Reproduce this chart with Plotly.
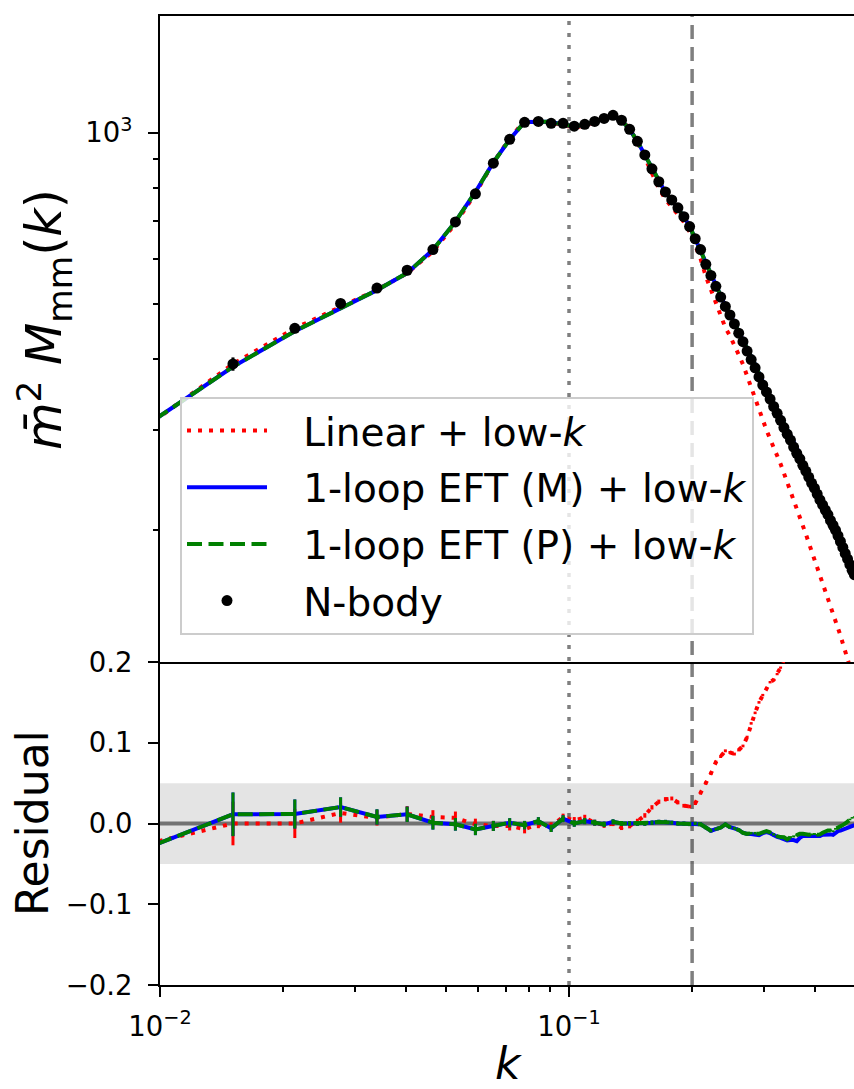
import plotly.graph_objects as go
from plotly.subplots import make_subplots

# wavenumber bins
k = [0.0088, 0.01508, 0.02136, 0.02764, 0.03392, 0.0402, 0.04648, 0.05276, 0.05904, 0.06532,
     0.0716, 0.07788, 0.08416, 0.09044, 0.09672, 0.103, 0.10928, 0.11556, 0.12184, 0.12812,
     0.1344, 0.14068, 0.14696, 0.15324, 0.15952, 0.1658, 0.17208, 0.17836, 0.18464, 0.19092,
     0.1972, 0.20348, 0.20976, 0.21604, 0.22232, 0.2286, 0.23488, 0.24116, 0.24744, 0.25372,
     0.26, 0.26628, 0.27256, 0.27884, 0.28512, 0.2914, 0.29768, 0.30396, 0.31024, 0.31652,
     0.3228, 0.32908, 0.33536, 0.34164, 0.34792, 0.3542, 0.36048, 0.36676, 0.37304, 0.37932,
     0.3856, 0.39188, 0.39816, 0.40444, 0.41072, 0.417, 0.42328, 0.42956, 0.43584, 0.44212,
     0.4484, 0.45468, 0.46096, 0.46724, 0.47352, 0.4798, 0.48608, 0.49236, 0.49864]

# N-body measurement
pk_nbody = [288, 392, 453, 501, 533, 573, 623, 697, 781, 884,
            974, 1043, 1047, 1039, 1039, 1027, 1035, 1047, 1060, 1073,
            1052, 1014, 966, 914, 864, 820, 787, 762, 738, 712,
            684, 651, 623, 587, 561, 537, 514, 495, 478, 461,
            444, 429, 413, 399, 386, 372, 360, 350, 340, 330,
            321, 312, 303, 295, 288, 280, 273, 267, 260, 254,
            248, 242, 237, 231.5, 226, 221.5, 217, 213, 208, 204,
            200, 195.5, 191, 186.5, 182, 178, 174, 170, 167]

# relative error of N-body measurement
err_rel = [0.04, 0.027, 0.018, 0.012, 0.0095, 0.0095, 0.0085, 0.0078, 0.007, 0.0062,
           0.0056, 0.0052, 0.0048, 0.0045, 0.0042, 0.004, 0.0038, 0.0036, 0.0034, 0.0032,
           0.0031, 0.003, 0.0029, 0.0028, 0.0027, 0.0026, 0.0025, 0.0024, 0.0023, 0.0023,
           0.0022, 0.0021, 0.0021, 0.002, 0.002, 0.0019, 0.0019, 0.0018, 0.0018, 0.0018,
           0.0017, 0.0017, 0.0017, 0.0016, 0.0016, 0.0016, 0.0015, 0.0015, 0.0015, 0.0015,
           0.0014, 0.0014, 0.0014, 0.0014, 0.0014, 0.0013, 0.0013, 0.0013, 0.0013, 0.0013,
           0.0012, 0.0012, 0.0012, 0.0012, 0.0012, 0.0012, 0.0011, 0.0011, 0.0011, 0.0011,
           0.0011, 0.0011, 0.0011, 0.001, 0.001, 0.001, 0.001, 0.001, 0.001]

# residuals  (N-body / model - 1)
res_linear = [-0.028, 0.0, 0.0, 0.013, 0.007, 0.012, 0.008, 0.007, -0.001, -0.003,
              -0.003, -0.007, -0.001, -0.003, 0.008, 0.004, 0.007, 0.001, -0.002, 0.0,
              -0.005, -0.003, 0.003, 0.010, 0.020, 0.027, 0.030, 0.031, 0.026, 0.022,
              0.021, 0.025, 0.038, 0.050, 0.062, 0.076, 0.083, 0.090, 0.088, 0.086,
              0.091, 0.096, 0.107, 0.124, 0.137, 0.150, 0.159, 0.167, 0.175, 0.178,
              0.185, 0.193, 0.203, 0.214, 0.226, 0.240, 0.251, 0.263, 0.275, 0.290,
              0.305, 0.317, 0.330, 0.343, 0.356, 0.370, 0.383, 0.396, 0.410, 0.423,
              0.437, 0.450, 0.463, 0.476, 0.490, 0.503, 0.516, 0.530, 0.542]

res_eft_m = [-0.035, 0.0114, 0.0118, 0.0204, 0.0081, 0.0114, 0.001, -0.001, -0.0074, -0.003,
             0.001, -0.002, 0.003, -0.006, 0.006, 0.0, 0.003, 0.001, -0.001, 0.002,
             0.0, 0.0, 0.0, 0.0, 0.001, 0.002, 0.002, 0.001, 0.0, 0.0,
             -0.001, 0.0, -0.001, -0.005, -0.009, -0.007, -0.005, -0.001, -0.0045, -0.006,
             -0.008, -0.0115, -0.013, -0.013, -0.014, -0.0145, -0.012, -0.0105, -0.012, -0.0145,
             -0.0165, -0.0177, -0.019, -0.021, -0.0205, -0.0205, -0.0218, -0.0177, -0.0156, -0.0156,
             -0.0156, -0.016, -0.015, -0.016, -0.0156, -0.014, -0.0135, -0.013, -0.0135, -0.014,
             -0.0115, -0.0095, -0.0087, -0.0074, -0.006, -0.005, -0.004, -0.003, -0.002]

res_eft_p = [-0.035, 0.0114, 0.0118, 0.0204, 0.0081, 0.0114, 0.001, -0.001, -0.0074, -0.003,
             0.001, -0.002, 0.003, -0.006, 0.006, 0.0, 0.003, 0.001, -0.001, 0.002,
             0.0, 0.0, 0.0, 0.0, 0.001, 0.002, 0.002, 0.001, 0.0, 0.0,
             -0.001, 0.0, -0.001, -0.005, -0.009, -0.007, -0.005, -0.001, -0.0045, -0.006,
             -0.008, -0.0115, -0.0128, -0.012, -0.012, -0.0128, -0.011, -0.0095, -0.011, -0.0135,
             -0.0156, -0.0168, -0.017, -0.0197, -0.017, -0.016, -0.0144, -0.0128, -0.0128, -0.0135,
             -0.014, -0.0135, -0.013, -0.014, -0.0135, -0.0115, -0.010, -0.0086, -0.0086, -0.0095,
             -0.0066, -0.005, -0.0045, -0.002, 0.0, 0.0025, 0.005, 0.007, 0.008]

x_ticks = [0.01, 0.1]
x_ticktext = ["10<sup>\u22122</sup>", "10<sup>\u22121</sup>"]
x_minor = [0.02, 0.03, 0.04, 0.05, 0.06, 0.07, 0.08, 0.09, 0.2, 0.3, 0.4]
y1_ticks = [1000]
y1_ticktext = ["10<sup>3</sup>"]
y1_minor = [200, 300, 400, 500, 600, 700, 800, 900]
y2_ticks = [-0.2, -0.1, 0.0, 0.1, 0.2]
y2_ticktext = ["\u22120.2", "\u22120.1", "0.0", "0.1", "0.2"]

model_linear = [p / (1 + r) for p, r in zip(pk_nbody, res_linear)]
model_eft_m = [p / (1 + r) for p, r in zip(pk_nbody, res_eft_m)]
model_eft_p = [p / (1 + r) for p, r in zip(pk_nbody, res_eft_p)]
err_abs = [p * e for p, e in zip(pk_nbody, err_rel)]

FONT = "DejaVu Sans"
RED_DASH = "4px,7px"
GREEN_DASH = "15px,6.5px"
GAP = "\u2002\u2009\u200a"

fig = make_subplots(rows=2, cols=1, shared_xaxes=True, vertical_spacing=0,
                    row_heights=[2 / 3, 1 / 3])

fig.add_trace(go.Scatter(x=k, y=model_linear, mode="lines", name=GAP + "Linear + low-<i>k</i>",
                         line=dict(color="red", width=4, dash=RED_DASH), legendgroup="a"), row=1, col=1)
fig.add_trace(go.Scatter(x=k, y=model_eft_m, mode="lines", name=GAP + "1-loop EFT (M) + low-<i>k</i>",
                         line=dict(color="blue", width=4), legendgroup="b"), row=1, col=1)
fig.add_trace(go.Scatter(x=k, y=model_eft_p, mode="lines", name=GAP + "1-loop EFT (P) + low-<i>k</i>",
                         line=dict(color="green", width=4, dash=GREEN_DASH), legendgroup="c"), row=1, col=1)
fig.add_trace(go.Scatter(x=k, y=pk_nbody, mode="markers", name=GAP + "N-body",
                         marker=dict(color="black", size=11),
                         error_y=dict(type="data", array=err_abs, color="black", thickness=3, width=0),
                         legendgroup="d"), row=1, col=1)

for res, col, dash in [(res_linear, "red", RED_DASH), (res_eft_m, "blue", "solid"),
                       (res_eft_p, "green", GREEN_DASH)]:
    fig.add_trace(go.Scatter(x=k, y=res, mode="lines", showlegend=False,
                             line=dict(color=col, width=4, dash=dash),
                             error_y=dict(type="data", array=err_rel, color=col, thickness=3, width=0)),
                  row=2, col=1)

# band and reference lines
fig.add_shape(type="rect", xref="paper", x0=0, x1=1, yref="y2", y0=-0.05, y1=0.05,
              fillcolor="rgba(0,0,0,0.105)", line=dict(width=0), layer="below")
fig.add_shape(type="line", xref="paper", x0=0, x1=1, yref="y2", y0=0, y1=0,
              line=dict(color="rgba(0,0,0,0.5)", width=4), layer="below")
fig.add_shape(type="line", xref="x", x0=0.1, x1=0.1, yref="paper", y0=0, y1=1,
              line=dict(color="rgba(0,0,0,0.5)", width=3.5, dash="4px,8px"), layer="below")
fig.add_shape(type="line", xref="x", x0=0.2, x1=0.2, yref="paper", y0=0, y1=1,
              line=dict(color="rgba(0,0,0,0.5)", width=3.5, dash="14px,8px"), layer="below")

xmax_log = -0.30318
axis_common = dict(showline=True, linecolor="black", linewidth=2, showgrid=False, zeroline=False,
                   tickcolor="black", tickfont=dict(family=FONT, size=27.5, color="black"))

fig.update_xaxes(type="log", range=[-2, xmax_log], **axis_common)
fig.update_xaxes(row=1, col=1, mirror=True, ticks="", showticklabels=False)
fig.update_xaxes(row=2, col=1, ticks="outside", ticklen=10, tickwidth=2,
                 tickvals=x_ticks, ticktext=x_ticktext, ticklabelstandoff=6,
                 minor=dict(tickvals=x_minor, ticks="outside", ticklen=5, tickwidth=1.5, tickcolor="black"))
fig.update_yaxes(row=1, col=1, type="log", range=[2.06906, 3.2054], ticks="outside", ticklen=10,
                 tickwidth=2, tickvals=y1_ticks, ticktext=y1_ticktext, ticklabelstandoff=10,
                 minor=dict(tickvals=y1_minor, ticks="outside", ticklen=5, tickwidth=1.5, tickcolor="black"),
                 **axis_common)
fig.update_yaxes(row=2, col=1, range=[-0.2, 0.2], ticks="outside", ticklen=10, tickwidth=2,
                 tickvals=y2_ticks, ticktext=y2_ticktext, ticklabelstandoff=10, **axis_common)

# axis labels
def px_x(px):
    return (px - 160) / 694.0

def px_y(py):
    return (985 - py) / 975.0

fig.add_annotation(xref="paper", yref="paper", x=px_x(44), y=px_y(316), textangle=-90,
                   text="<i>m\u0304</i><sup>2</sup> <i>M</i><sub>mm</sub>(<i>k</i>)", showarrow=False,
                   xanchor="center", yanchor="middle", font=dict(family=FONT, size=49, color="black"))
fig.add_annotation(xref="paper", yref="paper", x=px_x(32), y=px_y(822), textangle=-90,
                   text="Residual", showarrow=False, xanchor="center", yanchor="middle",
                   font=dict(family=FONT, size=44, color="black"))
fig.add_annotation(xref="paper", yref="paper", x=px_x(508), y=px_y(1064), text="<i>k</i>",
                   showarrow=False, xanchor="center", yanchor="middle",
                   font=dict(family=FONT, size=44, color="black"))

fig.update_layout(
    width=854, height=1089,
    margin=dict(l=160, r=0, t=10, b=104),
    plot_bgcolor="white", paper_bgcolor="white",
    font=dict(family=FONT, color="black"),
    legend=dict(x=px_x(180), y=px_y(393), xanchor="left", yanchor="top",
                bgcolor="rgba(255,255,255,0.8)", bordercolor="#cccccc", borderwidth=2,
                font=dict(family=FONT, size=39, color="black"), itemwidth=80, tracegroupgap=3),
)

fig.write_html("out.html")
